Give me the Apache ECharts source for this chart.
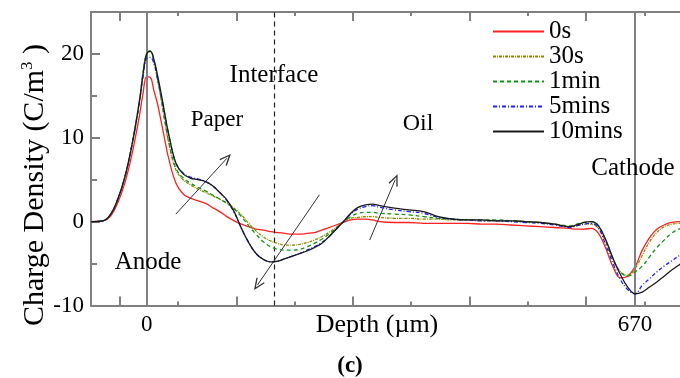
<!DOCTYPE html>
<html>
<head>
<meta charset="utf-8">
<script src="https://cdn.jsdelivr.net/npm/echarts@6/dist/echarts.min.js"></script>
<style>
html, body { margin: 0; padding: 0; background: #fff; }
#chart { width: 680px; height: 378px; }
</style>
</head>
<body>
<div id="chart"></div>
<script>
// Depth positions (µm) shared by every profile
const depth = [-76,-60,-50,-40,-30,-20,-10,-5,
  0,5,10,15,20,25,30,
  40,50,60,70,80,90,100,110,120,130,140,150,160,170,180,190,200,210,220,230,240,250,260,270,280,290,300,310,320,
  340,360,380,400,420,440,460,480,500,520,540,560,580,
  590,600,610,620,630,640,650,660,670,680,690,700,710,720,730,740];

// Charge density profiles (C/m^3) after each poling time
const rho0s = [0,0.1,0.6,2.2,4.6,8.1,12.6,15.3,
  17.3,17.2,15.6,14.0,11.9,9.7,7.6,
  4.6,3.3,2.8,2.5,2.2,1.7,1.2,0.6,0.1,-0.3,-0.6,-0.9,-1.0,-1.2,-1.3,-1.4,-1.5,-1.5,-1.4,-1.3,-1.0,-0.7,-0.4,-0.1,0.2,0.3,0.3,0.2,0.0,
  -0.1,-0.1,-0.2,-0.2,-0.2,-0.2,-0.3,-0.3,-0.4,-0.5,-0.6,-0.7,-0.8,
  -0.9,-0.9,-0.8,-1.4,-3.2,-5.4,-6.7,-6.5,-5.4,-3.4,-1.9,-0.9,-0.4,-0.1,0.0,0.0];

const rho30s = [0,0.1,0.8,2.6,5.3,9.3,14.4,17.7,
  20.1,20.3,19.1,16.9,14.5,11.9,9.5,
  6.2,5.0,4.4,3.9,3.5,3.1,2.7,2.2,1.6,0.8,-0.2,-1.1,-1.8,-2.3,-2.6,-2.8,-2.8,-2.7,-2.5,-2.2,-1.8,-1.3,-0.7,0,0.4,0.5,0.6,0.6,0.5,
  0.4,0.4,0.3,0.3,0.2,0.2,0.1,0.1,0.1,0.0,-0.1,-0.3,-0.6,
  -0.5,-0.3,-0.3,-0.8,-2.2,-4.4,-6.0,-6.4,-5.6,-4.0,-2.4,-1.3,-0.6,-0.3,-0.2,-0.1];

const rho1min = [0,0.1,0.8,2.6,5.3,9.3,14.4,17.7,
  20.1,20.4,19.2,17.0,14.6,12.0,9.6,
  6.4,5.2,4.6,4.1,3.7,3.2,2.7,2.2,1.5,0.6,-0.5,-1.5,-2.4,-3.0,-3.3,-3.4,-3.4,-3.3,-3.0,-2.6,-2.1,-1.5,-0.8,0,0.6,1.0,1.1,1.1,1.0,
  0.9,0.8,0.6,0.4,0.3,0.2,0.2,0.2,0.1,0.0,-0.1,-0.3,-0.5,
  -0.3,-0.1,0.0,-0.5,-2.4,-4.6,-6.0,-6.5,-6.0,-5.3,-4.2,-3.1,-2.2,-1.4,-0.9,-0.7];

const rho5min = [0,0.1,0.8,2.6,5.3,9.2,14.2,17.3,
  19.5,19.6,18.8,17.0,15.0,12.7,10.5,
  7.0,5.8,5.3,5.1,4.8,4.3,3.5,2.5,1.1,-0.8,-2.5,-3.8,-4.5,-4.8,-4.7,-4.4,-4.1,-3.8,-3.4,-3.0,-2.5,-1.8,-0.9,0,0.9,1.5,1.8,1.9,1.7,
  1.4,1.2,1.0,0.5,0.3,0.2,0.1,0.1,0.0,-0.1,-0.2,-0.4,-0.7,
  -0.5,-0.3,-0.2,-0.8,-2.8,-5.0,-6.9,-8.1,-8.6,-7.6,-6.8,-6.0,-5.3,-4.7,-4.1,-3.6];

const rho10min = [0,0.1,0.8,2.6,5.3,9.2,14.3,17.6,
  20.0,20.3,19.3,17.4,15.2,12.8,10.5,
  7.0,5.7,5.2,5.0,4.8,4.3,3.5,2.6,1.2,-0.8,-2.5,-3.8,-4.5,-4.8,-4.7,-4.4,-4.1,-3.8,-3.5,-3.1,-2.6,-1.8,-0.9,0,1.0,1.7,2.0,2.1,1.9,
  1.6,1.4,1.2,0.6,0.3,0.2,0.2,0.1,0.1,0.0,-0.1,-0.3,-0.6,
  -0.4,-0.1,0.0,-0.5,-2.2,-4.4,-6.3,-7.8,-8.6,-8.4,-7.8,-7.2,-6.5,-5.8,-5.2,-4.6];

const seriesNames = ['0s', '30s', '1min', '5mins', '10mins'];

// Axis marks
const xLabelValues = [0, 670];
const xMajorTicks = [-37, 123, 283, 443, 603];
const xMinorTicks = [43, 203, 363, 523, 683];
const yLabelValues = [-10, 0, 10, 20];
const yMinorTicks = [-5, 5, 15];
const anodeDepth = 0, cathodeDepth = 670, interfaceDepth = 175;

const FONT = '"Liberation Serif", "Times New Roman", serif';
const AXIS_GRAY = '#808080';
const X_MIN = -76.4, X_MAX = 731.8, Y_MIN = -10, Y_MAX = 25;

const pair = arr => depth.map((d, i) => [d, arr[i]]);
const arrowHead = 'path://M5,0 L10,11 L8.8,11.6 L5,3.2 L1.2,11.6 L0,11 Z';

function xAxisDef(position, ticks, len, labels) {
  return {
    type: 'value', position: position, min: X_MIN, max: X_MAX,
    axisLine: { show: labels, onZero: false, lineStyle: { color: AXIS_GRAY, width: 2 } },
    axisTick: { show: true, inside: true, length: len, customValues: ticks,
      lineStyle: { color: AXIS_GRAY, width: 2 } },
    axisLabel: { show: labels && position === 'bottom', customValues: xLabelValues, margin: 8,
      fontSize: 23, fontFamily: FONT, color: '#000' },
    splitLine: { show: false }
  };
}
function yAxisDef(ticks, len, labels) {
  return {
    type: 'value', position: 'left', min: Y_MIN, max: Y_MAX,
    axisLine: { show: labels, onZero: false, lineStyle: { color: AXIS_GRAY, width: 2 } },
    axisTick: { show: true, inside: true, length: len, customValues: ticks,
      lineStyle: { color: AXIS_GRAY, width: 2 } },
    axisLabel: { show: labels, customValues: yLabelValues, margin: 7,
      fontSize: 23, fontFamily: FONT, color: '#000' },
    splitLine: { show: false }
  };
}

const styles = [
  { color: '#ff2020', type: 'solid' },
  { color: '#8a8a00', type: [3, 1, 1, 1] },
  { color: '#149414', type: [4, 3] },
  { color: '#2020ff', type: [4, 2, 1, 2] },
  { color: '#1a1a1a', type: 'solid' }
];
const profiles = [rho0s, rho30s, rho1min, rho5min, rho10min];

const series = profiles.map((arr, i) => ({
  name: seriesNames[i], type: 'line', data: pair(arr),
  xAxisIndex: 0, yAxisIndex: 0,
  showSymbol: false, symbol: 'none', smooth: 0.4,
  lineStyle: { color: styles[i].color, type: styles[i].type, width: 1.3 },
  itemStyle: { color: styles[i].color },
  z: 3 + i
}));

// Electrode and interface positions plus trend arrows
const trendArrow = (a, b) => [
  { coord: a, symbol: 'none' },
  { coord: b, symbol: arrowHead, symbolSize: [10, 12] }
];
series[0].markLine = {
  silent: true, animation: false, symbol: ['none', 'none'],
  label: { show: false },
  data: [
    [{ coord: [anodeDepth, Y_MIN], symbol: 'none', lineStyle: { color: AXIS_GRAY, width: 2, type: 'solid' } },
     { coord: [anodeDepth, Y_MAX], symbol: 'none' }],
    [{ coord: [cathodeDepth, Y_MIN], symbol: 'none', lineStyle: { color: AXIS_GRAY, width: 2, type: 'solid' } },
     { coord: [cathodeDepth, Y_MAX], symbol: 'none' }],
    [{ coord: [interfaceDepth, Y_MIN], symbol: 'none', lineStyle: { color: '#222', width: 1.2, type: [5, 4] } },
     { coord: [interfaceDepth, Y_MAX], symbol: 'none' }],
    trendArrow([40, 0.9], [110, 7.55]),
    trendArrow([237, 3.2], [152, -7.55]),
    trendArrow([306, -2.2], [341, 5.0])
  ].map(seg => {
    if (!seg[0].lineStyle) seg[0].lineStyle = { color: '#333', width: 1, type: 'solid' };
    return seg;
  })
};

const labelText = (text, x, y, size) => ({
  type: 'text', x: x, y: y, z: 50,
  style: { text: text, align: 'center', verticalAlign: 'middle',
    font: size + 'px ' + FONT, fill: '#000' }
});

const chart = echarts.init(document.getElementById('chart'), null, { renderer: 'canvas' });
chart.setOption({
  animation: false,
  backgroundColor: '#fff',
  grid: { left: 91, top: 12, right: 0, bottom: 72.5, containLabel: false },
  xAxis: [
    xAxisDef('bottom', xMajorTicks, 9, true),
    xAxisDef('bottom', xMinorTicks, 4, false),
    xAxisDef('top', xMajorTicks, 9, true),
    xAxisDef('top', xMinorTicks, 4, false)
  ],
  yAxis: [
    yAxisDef(yLabelValues, 9, true),
    yAxisDef(yMinorTicks, 6, false)
  ],
  legend: {
    orient: 'vertical', left: 492, top: 19, padding: 0, selectedMode: false,
    itemWidth: 51, itemHeight: 14, itemGap: 0,
    data: seriesNames,
    itemStyle: { opacity: 0, borderWidth: 0 },
    textStyle: { fontSize: 25, fontFamily: FONT, color: '#000', lineHeight: 25 }
  },
  series: series,
  graphic: [
    labelText('Anode', 148, 262, 25),
    labelText('Paper', 217, 120, 23),
    labelText('Interface', 274, 75, 25),
    labelText('Oil', 418, 124, 24),
    labelText('Cathode', 633, 168, 25),
    labelText('Depth (\u00b5m)', 377, 325, 26),
    {
      type: 'text', x: 350, y: 366, z: 50,
      style: { text: '(c)', align: 'center', verticalAlign: 'middle',
        font: 'bold 23px ' + FONT, fill: '#000' }
    },
    {
      type: 'text', x: 35, y: 185, rotation: Math.PI / 2, z: 50,
      style: {
        text: '{a|Charge Density (C/m}{s|3}{a| )}',
        align: 'center', verticalAlign: 'middle',
        rich: {
          a: { fontSize: 30, fontFamily: FONT, fill: '#000' },
          s: { fontSize: 17, fontFamily: FONT, fill: '#000', padding: [0, 0, 15, 0] }
        }
      }
    }
  ]
});
</script>
</body>
</html>
